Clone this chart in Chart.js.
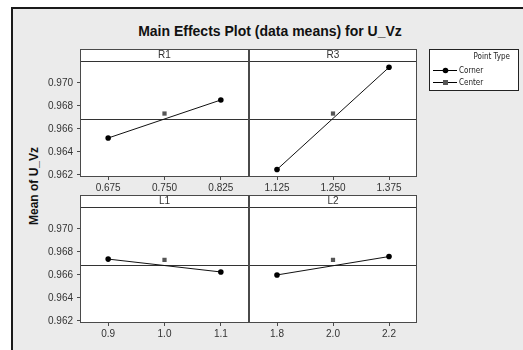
<!DOCTYPE html>
<html><head><meta charset="utf-8">
<script src="https://cdn.jsdelivr.net/npm/chart.js@4/dist/chart.umd.min.js"></script>
<style>
html,body{margin:0;padding:0;background:#fff;}
#wrap{position:relative;width:523px;height:350px;overflow:hidden;}
#bg{position:absolute;left:11px;top:7px;width:540px;height:370px;background:#ebebeb;border:2px solid #1a1a1a;box-sizing:border-box;}
canvas{position:absolute;left:0;top:0;}
#title{position:absolute;left:0;width:540px;top:23px;line-height:16px;text-align:center;font:bold 14px "Liberation Sans",Arial,sans-serif;color:#111;}
#ytitle{position:absolute;left:-65px;top:178px;width:200px;height:16px;line-height:16px;text-align:center;font:bold 12px "Liberation Sans",Arial,sans-serif;color:#111;transform:rotate(-90deg);}
</style>
</head><body>
<div id="wrap">
  <div id="bg"></div>
  <div id="title">Main Effects Plot (data means) for U_Vz</div>
  <div id="ytitle">Mean of U_Vz</div>
  <canvas id="c1" width="523" height="350"></canvas>
  <canvas id="c2" width="523" height="350"></canvas>
  <canvas id="c3" width="523" height="350"></canvas>
  <canvas id="c4" width="523" height="350"></canvas>
</div>
<script>
// ---- data ----
const factorNames = ['R1', 'R3', 'L1', 'L2'];
const levelsR1 = ['0.675', '0.750', '0.825'];
const levelsR3 = ['1.125', '1.250', '1.375'];
const levelsL1 = ['0.9', '1.0', '1.1'];
const levelsL2 = ['1.8', '2.0', '2.2'];
const cornerR1 = [0.96521, null, 0.96852];
const cornerR3 = [0.96247, null, 0.97136];
const cornerL1 = [0.96738, null, 0.96626];
const cornerL2 = [0.96600, null, 0.96760];
const centerR1 = [null, 0.96734, null];
const centerR3 = [null, 0.96734, null];
const centerL1 = [null, 0.96731, null];
const centerL2 = [null, 0.96731, null];
const grandMean = 0.96688;
const yTickValues = [0.962, 0.964, 0.966, 0.968, 0.970];
const yMin = 0.96182, yMax = 0.97191;
const legendTitle = 'Point Type';
const seriesNames = ['Corner', 'Center'];

const STRIP = 12;
const BORDER = '#4a4a4a';
const panelPlugin = {
  id: 'panel',
  beforeDraw(chart) {
    const ctx = chart.ctx, ca = chart.chartArea;
    ctx.save();
    ctx.fillStyle = '#fff';
    ctx.fillRect(ca.left, ca.top - STRIP, ca.right - ca.left, ca.bottom - ca.top + STRIP);
    ctx.restore();
  },
  beforeDatasetsDraw(chart) {
    const ctx = chart.ctx, ca = chart.chartArea;
    const y = Math.round(chart.scales.y.getPixelForValue(grandMean)) + 0.5;
    ctx.save();
    ctx.strokeStyle = '#333';
    ctx.lineWidth = 1;
    ctx.beginPath();
    ctx.moveTo(ca.left, y); ctx.lineTo(ca.right, y);
    ctx.moveTo(ca.left, ca.top + 0.5); ctx.lineTo(ca.right, ca.top + 0.5);
    ctx.stroke();
    ctx.strokeStyle = BORDER;
    ctx.strokeRect(ca.left + 0.5, ca.top - STRIP + 0.5, ca.right - ca.left - 1, ca.bottom - ca.top + STRIP - 1);
    ctx.fillStyle = '#333';
    ctx.font = '10px "Liberation Sans", Arial, sans-serif';
    ctx.textAlign = 'center';
    ctx.textBaseline = 'middle';
    ctx.fillText(chart.options.plugins.panel.label, (ca.left + ca.right) / 2, ca.top - STRIP / 2 + 0.5);
    ctx.restore();
  }
};

const legendPlugin = {
  id: 'ownLegend',
  afterDraw(chart) {
    const ctx = chart.ctx;
    const ds = chart.data.datasets;
    ctx.save();
    ctx.fillStyle = '#fff';
    ctx.fillRect(429, 49, 90, 42);
    ctx.strokeStyle = '#222';
    ctx.lineWidth = 1;
    ctx.strokeRect(429.5, 49.5, 89, 41);
    ctx.font = '8px "Liberation Sans Narrow", "DejaVu Sans Condensed", "Liberation Sans", sans-serif';
    ctx.fillStyle = '#222';
    ctx.textBaseline = 'middle';
    ctx.textAlign = 'right';
    ctx.fillText(legendTitle, 510, 57);
    ctx.textAlign = 'left';
    const rows = [70.5, 82.5];
    rows.forEach((ry, i) => {
      ctx.strokeStyle = '#000';
      ctx.beginPath(); ctx.moveTo(433, ry); ctx.lineTo(457, ry); ctx.stroke();
      ctx.fillStyle = ds[i].pointBackgroundColor;
      if (i === 0) { ctx.beginPath(); ctx.arc(445.5, ry, 2.8, 0, Math.PI * 2); ctx.fill(); }
      else { ctx.fillRect(443, ry - 2.5, 5, 5); }
      ctx.fillStyle = '#222';
      ctx.fillText(seriesNames[i], 459, ry);
    });
    ctx.restore();
  }
};

function makePanel(id, label, labels, corner, center, area, showY, extra) {
  const yW = showY ? 50 : 0;
  const xH = 20;
  return new Chart(document.getElementById(id), {
    type: 'line',
    data: {
      labels: labels,
      datasets: [
        { label: seriesNames[0], data: corner, spanGaps: true, borderColor: '#111', borderWidth: 1,
          pointStyle: 'circle', pointRadius: 2.8, pointBackgroundColor: '#000', pointBorderColor: '#000', pointBorderWidth: 0 },
        { label: seriesNames[1], data: center, showLine: false,
          pointStyle: 'rect', pointRadius: 3, pointBackgroundColor: '#555', pointBorderColor: '#555', pointBorderWidth: 0 }
      ]
    },
    options: {
      responsive: false, animation: false, devicePixelRatio: 1,
      layout: { padding: { left: area.left - yW, top: area.top, right: 523 - area.right, bottom: 350 - area.bottom - xH } },
      plugins: { legend: { display: false }, tooltip: { enabled: false }, panel: { label: label } },
      scales: {
        x: {
          type: 'category', offset: true,
          grid: { display: true, drawOnChartArea: false, drawTicks: true, tickLength: 3, color: BORDER },
          border: { display: false },
          ticks: { padding: 2, color: '#333', font: { family: 'Liberation Sans', size: 10 }, maxRotation: 0, autoSkip: false },
          afterFit(s) { s.height = xH; }
        },
        y: {
          display: showY, min: yMin, max: yMax,
          afterBuildTicks(s) { s.ticks = yTickValues.map(v => ({ value: v })); },
          grid: { display: true, drawOnChartArea: false, drawTicks: true, tickLength: 3, color: BORDER },
          border: { display: false },
          ticks: { padding: 4, color: '#333', font: { family: 'Liberation Sans', size: 10 },
                   callback: v => Number(v).toFixed(3) },
          afterFit(s) { s.width = yW; }
        }
      }
    },
    plugins: extra ? [panelPlugin, legendPlugin] : [panelPlugin]
  });
}

makePanel('c1', factorNames[0], levelsR1, cornerR1, centerR1, { left: 80, right: 249, top: 49 + STRIP, bottom: 177 }, true, false);
makePanel('c2', factorNames[1], levelsR3, cornerR3, centerR3, { left: 249, right: 417, top: 49 + STRIP, bottom: 177 }, false, false);
makePanel('c3', factorNames[2], levelsL1, cornerL1, centerL1, { left: 80, right: 249, top: 195 + STRIP, bottom: 323 }, true, false);
makePanel('c4', factorNames[3], levelsL2, cornerL2, centerL2, { left: 249, right: 417, top: 195 + STRIP, bottom: 323 }, false, true);
</script>
</body></html>
